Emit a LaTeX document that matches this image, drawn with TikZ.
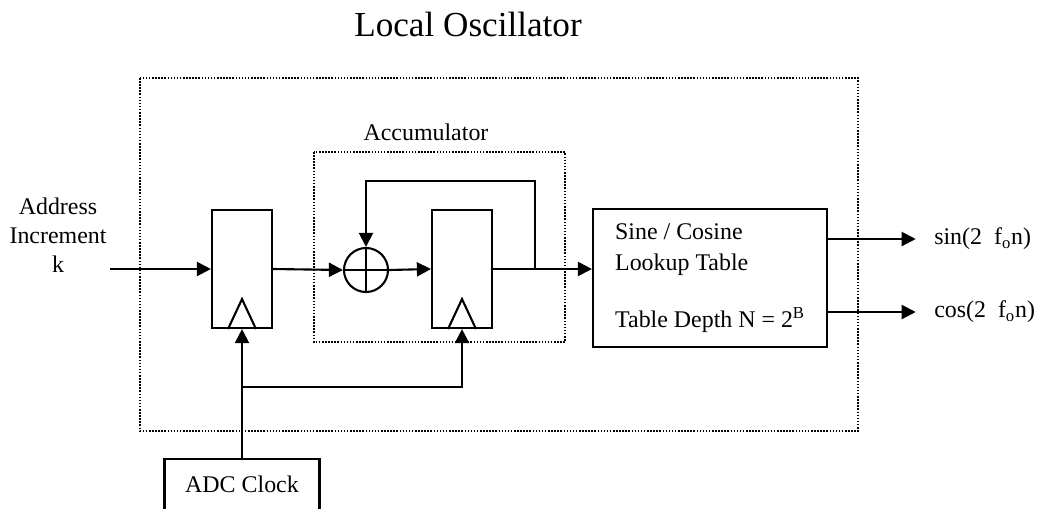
\documentclass[tikz,border=0pt]{standalone}
\usepackage{fontspec}
\setmainfont{Liberation Serif}
\usetikzlibrary{arrows.meta,positioning}

\begin{document}
\begin{tikzpicture}[x=0.025cm, y=-0.025cm,
  reg/.style={draw, line width=1.5pt, minimum width=1.5cm, minimum height=2.95cm, inner sep=0pt},
  block/.style={draw, line width=1.5pt, align=left, font=\fontsize{17}{22}\selectfont},
  lbl/.style={font=\fontsize{17}{20.5}\selectfont, align=center, inner sep=0pt},
  dotbox/.style={line width=1.4pt, dash pattern=on 1.1pt off 1.1pt},
  wire/.style={line width=1.5pt},
  arrow/.style={-{Triangle[length=10pt,width=10pt]}, line width=1.5pt}
]
\useasboundingbox (0,0) rectangle (1038,508);

\node[font=\fontsize{25}{30}\selectfont, inner sep=0pt] (title) at (468,24) {Local Oscillator};

% dotted frames
\draw[dotbox] (140,78) rectangle (858,431);
\draw[dotbox] (314,152) rectangle (565,342);
\node[lbl] (acclbl) at (426,132) {Accumulator};

\node[lbl] (addr) at (58,235) {Address\\Increment\\k};
\coordinate (kin) at (110,269);

\node[reg] (reg1) at (242,269) {};
\node[draw, circle, line width=1.5pt, minimum size=1.1cm, inner sep=0pt] (adder) at (366,270) {};
\node[reg] (reg2) at (462,269) {};
\node[block, minimum width=5.85cm, minimum height=3.45cm] (lut) at (710,278)
  {Sine / Cosine\\Lookup Table\\[19pt]Table Depth N = 2\textsuperscript{B}};
\node[draw, line width=1.5pt, lbl, minimum width=3.875cm, minimum height=1.275cm] (adc) at (242,484.5) {ADC Clock};

\node[lbl, anchor=west] (sinout) at (934,239) {sin(2\ \ f\textsubscript{o}n)};
\node[lbl, anchor=west] (cosout) at (934,312) {cos(2\ \ f\textsubscript{o}n)};

% clock triangles and adder cross
\foreach \r in {reg1,reg2}
  \draw[wire, line join=miter] (\r.south) ++(-14,0) -- ++(14,-30) -- ++(14,30);
\draw[wire] (adder.north) -- (adder.south);
\draw[wire] (adder.west) -- (adder.east);

% data path
\coordinate (tap) at (535,269);
\coordinate (fb) at (535,181);
\draw[arrow] (kin) -- (reg1.west);
\draw[arrow] (reg1.east) -- (adder.west);
\draw[arrow] (adder.east) -- (reg2.west);
\draw[arrow] (reg2.east) -- (tap -| lut.west);
\draw[arrow] (tap) -- (fb) -| (adder.north);
\draw[arrow, shorten >=13pt] (sinout.west -| lut.east) -- (sinout.west);
\draw[arrow, shorten >=13pt] (cosout.west -| lut.east) -- (cosout.west);

% clock path
\coordinate (clkbr) at (242,387);
\draw[arrow] (adc.north) -- (reg1.south);
\draw[arrow] (clkbr) -| (reg2.south);
\end{tikzpicture}
\end{document}
